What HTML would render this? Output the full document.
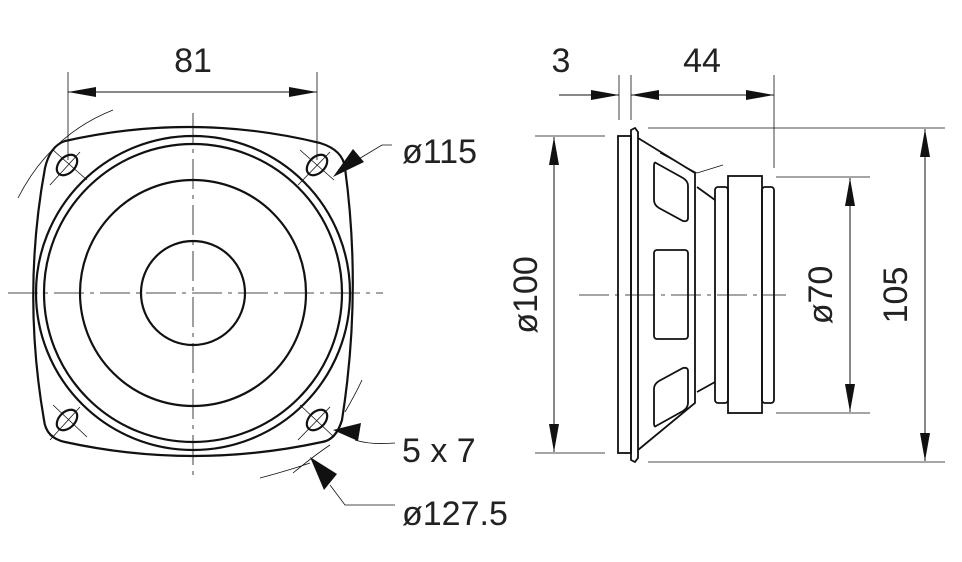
<!DOCTYPE html><html><head><style>body{margin:0;background:#fff}svg{display:block}text{font-family:"Liberation Sans",sans-serif;font-size:34px;fill:#222}</style></head><body>
<svg width="962" height="562" viewBox="0 0 962 562" xmlns="http://www.w3.org/2000/svg">
<defs><marker id="a" viewBox="0 0 28 10" refX="28" refY="5" markerWidth="28" markerHeight="10" markerUnits="userSpaceOnUse" orient="auto-start-reverse"><path d="M0,0L28,5L0,10Z" fill="#111"/></marker></defs>
<g fill="none" stroke="#111">
<g stroke-width="0.8">
<path d="M8,293H383" stroke-dasharray="30,6,4,6"/>
<path d="M193,113V478" stroke-dasharray="30,6,4,6"/>
<path d="M68,72V160M317,72V160"/>
<path d="M18,198Q50,135 113,110M293,473Q315,455 330,445M260,478Q290,470 310,463M345,412Q355,395 362,380"/>
<path d="M53,150L87,180M80,152L50,185M300,150L334,180M330,152L298,185M53,405L87,437M80,407L50,440M300,405L334,437M330,407L298,440"/>
<path d="M357,160L382,145H392M355,440Q370,445 395,443M330,485L345,505H395"/>
</g>
<path d="M68,92H317" stroke-width="1" marker-start="url(#a)" marker-end="url(#a)"/>
<g stroke-width="2.2">
<path d="M65,141Q193,112 320,143Q343,150 345,168Q362,293 342,420Q336,440 322,442Q193,470 65,442Q46,438 44,420Q22,293 45,168Q50,146 65,141Z"/>
<circle cx="193" cy="293" r="52"/><circle cx="193" cy="293" r="113"/><circle cx="193" cy="293" r="149"/><circle cx="193" cy="293" r="157"/>
<ellipse cx="67" cy="165" rx="12" ry="8" transform="rotate(-45 67 165)"/>
<ellipse cx="317" cy="165" rx="12" ry="8" transform="rotate(-45 317 165)"/>
<ellipse cx="67" cy="420" rx="12" ry="8" transform="rotate(-45 67 420)"/>
<ellipse cx="317" cy="420" rx="12" ry="8" transform="rotate(-45 317 420)"/>
</g>
<polygon points="333,177 353,149 364,162" fill="#111" stroke="none"/>
<polygon points="333,430 361,423 358,441" fill="#111" stroke="none"/>
<polygon points="310,457 337,474 324,490" fill="#111" stroke="none"/>
<g stroke-width="0.8">
<path d="M579,295H786" stroke-dasharray="30,6,4,6"/>
<path d="M619,75V120M631,75V120M774,75V168"/>
<path d="M535,136H605M535,453H605M776,177H870M776,413H870M648,128H945M648,462H945"/>
<path d="M660,153L697,173M697,173L723,165"/>
</g>
<path d="M559,95H619" stroke-width="1" marker-end="url(#a)"/>
<path d="M631,95H774" stroke-width="1" marker-start="url(#a)" marker-end="url(#a)"/>
<path d="M554,137V452" stroke-width="1" marker-start="url(#a)" marker-end="url(#a)"/>
<path d="M850,178V412" stroke-width="1" marker-start="url(#a)" marker-end="url(#a)"/>
<path d="M925,129V461" stroke-width="1" marker-start="url(#a)" marker-end="url(#a)"/>
<g stroke-width="1.8">
<rect x="618" y="136" width="13" height="317"/>
<path d="M631,130L635,128L638,132V458L635,462L631,460Z"/>
<path d="M638,138L695,173V403L638,450"/>
<path d="M697,187L715,200M697,392L715,382"/>
<rect x="715" y="187" width="13" height="216" rx="3"/>
<rect x="728" y="176" width="34" height="237"/>
<rect x="762" y="187" width="12" height="216" rx="3"/>
<path d="M656,163L683,178Q688,181 688,186V218Q688,222 683,221L659,208Q654,205 654,200V167Q654,161 656,163Z"/>
<rect x="654" y="250" width="34" height="89" rx="3"/>
<path d="M656,426L683,411Q688,408 688,403V371Q688,367 683,368L659,381Q654,384 654,389V422Q654,428 656,426Z"/>
</g>
</g>
<text x="193" y="72" text-anchor="middle">81</text>
<text x="561" y="72" text-anchor="middle">3</text>
<text x="702" y="72" text-anchor="middle">44</text>
<text x="402" y="163">ø115</text>
<text x="402" y="462">5 x 7</text>
<text x="402" y="525">ø127.5</text>
<text transform="translate(537,295) rotate(-90)" text-anchor="middle">ø100</text>
<text transform="translate(832,295) rotate(-90)" text-anchor="middle">ø70</text>
<text transform="translate(907,295) rotate(-90)" text-anchor="middle">105</text>
</svg></body></html>
